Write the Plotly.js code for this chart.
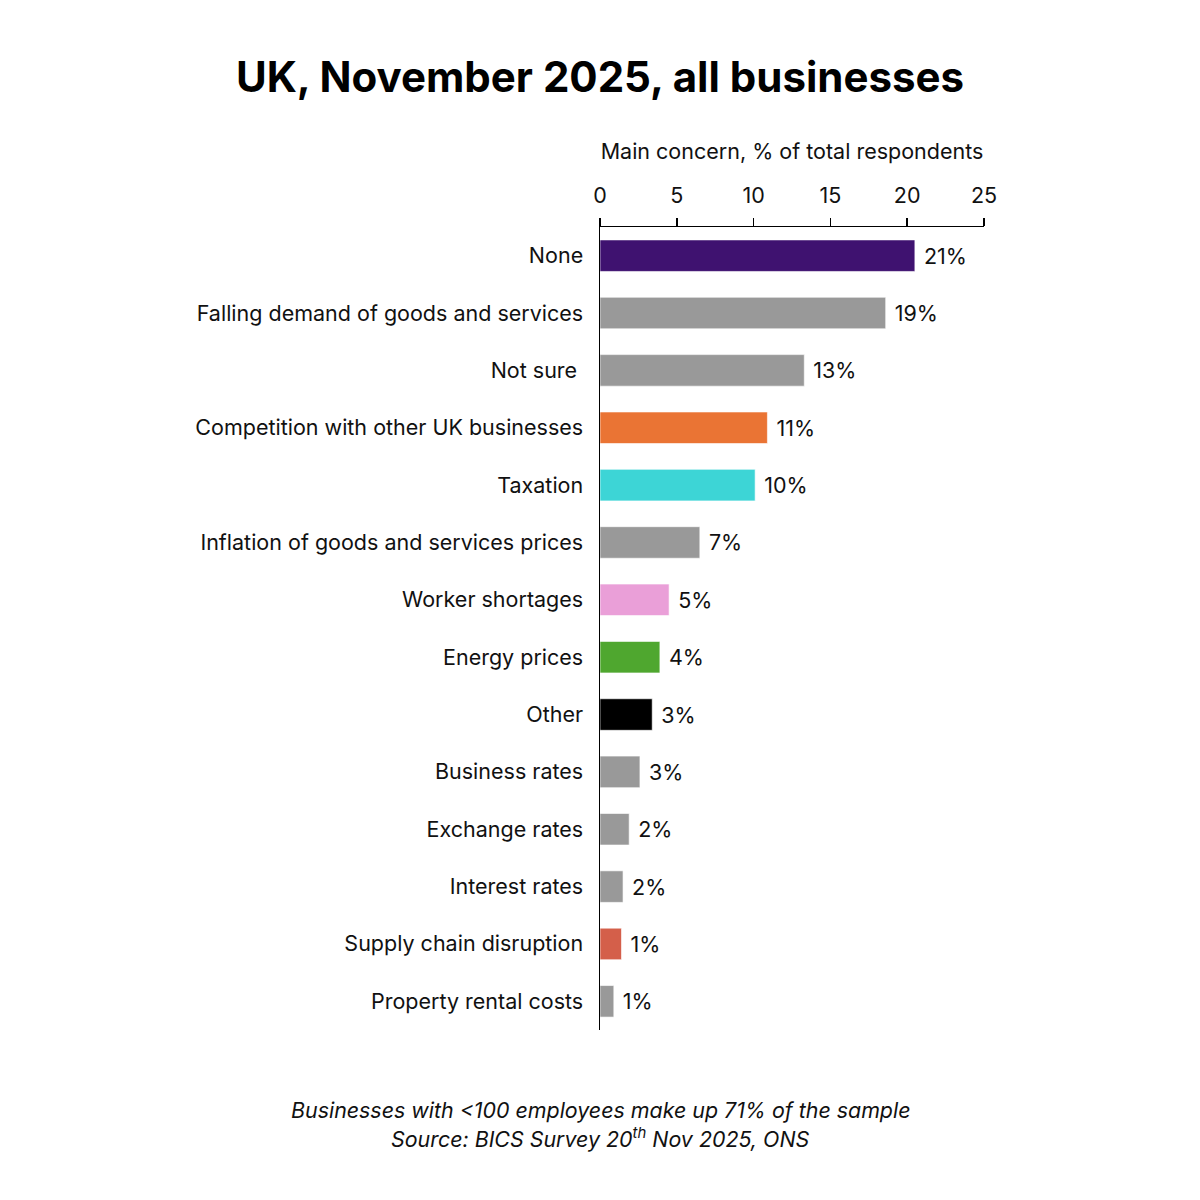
<!DOCTYPE html>
<html>
<head>
<meta charset="utf-8">
<script src="https://cdn.plot.ly/plotly-3.0.1.min.js"></script>
<style>html,body{margin:0;padding:0;background:#fff;}#chart{width:1200px;height:1200px;}</style>
</head>
<body>
<div id="chart"></div>
<script>
const categories = ["None","Falling demand of goods and services","Not sure ","Competition with other UK businesses","Taxation","Inflation of goods and services prices","Worker shortages","Energy prices","Other","Business rates","Exchange rates","Interest rates","Supply chain disruption","Property rental costs"];
const values = [20.5,18.6,13.3,10.9,10.1,6.5,4.5,3.9,3.4,2.6,1.9,1.5,1.4,0.9];
const valueLabels = ["21%","19%","13%","11%","10%","7%","5%","4%","3%","3%","2%","2%","1%","1%"];
const barColors = ["#3F1270","#999999","#999999","#EA7434","#3DD5D6","#999999","#EA9FD8","#4FA72F","#000000","#999999","#999999","#999999","#D45F4A","#999999"];

const FONT = "Inter, 'Noto Sans', sans-serif";

const trace = {
  type: "bar",
  orientation: "h",
  x: values,
  y: categories,
  text: valueLabels,
  texttemplate: "\u00A0%{text}",
  textposition: "outside",
  cliponaxis: false,
  textfont: {family: FONT, size: 21.5, color: "#111"},
  marker: {color: barColors, line: {color: "rgba(255,255,255,0.6)", width: 1}},
  width: 0.55,
  hoverinfo: "none"
};

const layout = {
  width: 1200, height: 1200,
  paper_bgcolor: "#fff", plot_bgcolor: "#fff",
  margin: {l: 600, r: 216, t: 227, b: 170},
  showlegend: false,
  font: {family: FONT, size: 21.5, color: "#111"},
  title: {text: "<b>UK, November 2025, all businesses</b>", font: {family: FONT, size: 42, color: "#000"}, x: 0.5, xref: "container", xanchor: "center", y: 0.936, yanchor: "middle"},
  xaxis: {
    side: "top", range: [0, 25], dtick: 5, tick0: 0,
    showgrid: false, zeroline: false,
    showline: true, linecolor: "#000", linewidth: 1.5,
    ticks: "outside", ticklen: 8, tickcolor: "#000", tickwidth: 1.5,
    ticklabelstandoff: 6,
    tickfont: {family: FONT, size: 21.5, color: "#111"},
    title: {text: "Main concern, % of total respondents", font: {family: FONT, size: 21.5, color: "#111"}, standoff: 16},
    fixedrange: true
  },
  yaxis: {
    autorange: "reversed",
    showgrid: false, zeroline: false,
    showline: true, linecolor: "#000", linewidth: 1.5,
    ticks: "", ticklabelstandoff: 11,
    tickfont: {family: FONT, size: 21.5, color: "#111"},
    fixedrange: true
  },
  annotations: [
    {text: "<i>Businesses with &lt;100 employees make up 71% of the sample</i>", xref: "paper", yref: "paper", x: 0, xanchor: "center", y: -0.1, yanchor: "middle", showarrow: false, font: {family: FONT, size: 21.4, color: "#111"}},
    {text: "<i>Source: BICS Survey 20<sup>th</sup> Nov 2025, ONS</i>", xref: "paper", yref: "paper", x: 0, xanchor: "center", y: -0.134, yanchor: "middle", showarrow: false, font: {family: FONT, size: 21.4, color: "#111"}}
  ]
};

Plotly.newPlot("chart", [trace], layout, {staticPlot: true, displayModeBar: false});
</script>
</body>
</html>
